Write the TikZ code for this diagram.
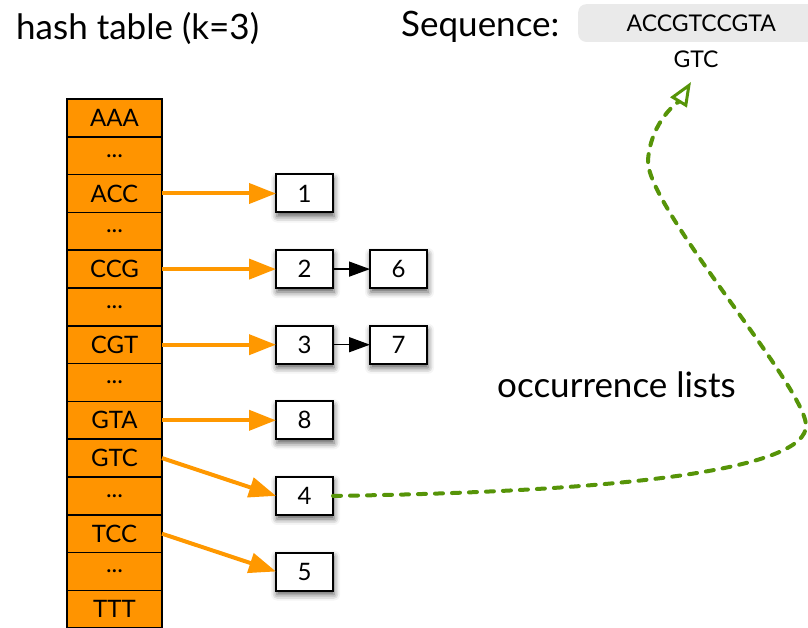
\documentclass[tikz,border=0pt]{standalone}
\usepackage{fontspec}
\setmainfont{Lato}
\usetikzlibrary{arrows.meta,shadows.blur,backgrounds,positioning}

\definecolor{tableorange}{RGB}{255,148,0}
\definecolor{linkorange}{RGB}{255,152,0}
\definecolor{hitgreen}{RGB}{86,148,8}
\definecolor{seqgray}{RGB}{234,234,234}

\begin{document}
\begin{tikzpicture}[x=1pt,y=-1pt]
      \newcommand{\cellwidth}[0]{95pt}
      \newcommand{\cellheight}[0]{37.8pt}
      \newcommand{\boxwidth}[0]{57pt}
      \newcommand{\boxheight}[0]{38pt}
      \newcommand{\linkgap}[0]{114pt}
      \newcommand{\listgap}[0]{37pt}
      
      \useasboundingbox (0,0) rectangle (808,628);
      \clip (0,0) rectangle (808,628);
      \coordinate (origo) at (0,0);
      
      \tikzstyle{cell}=[
        rectangle,
        draw=black,
        fill=tableorange,
        line width=1.5pt,
        anchor=north,
        outer sep=0pt,
        inner sep=0pt,
        minimum width=\cellwidth,
        minimum height=\cellheight,
        font=\fontsize{24}{28}\selectfont,
      ]
      \tikzstyle{entry}=[
        rectangle,
        draw=black,
        fill=white,
        line width=2pt,
        outer sep=0pt,
        inner sep=0pt,
        minimum width=\boxwidth,
        minimum height=\boxheight,
        font=\fontsize{24}{28}\selectfont,
        blur shadow={shadow xshift=1pt,shadow yshift=-4pt,shadow blur radius=6pt,shadow opacity=65},
      ]
      \tikzstyle{caption}=[
        anchor=base west,
        inner sep=0pt,
        font=\fontsize{35}{40}\selectfont,
      ]
      \tikzstyle{seq}=[
        rectangle,
        fill=seqgray,
        rounded corners=8pt,
        inner sep=0pt,
        minimum width=246pt,
        minimum height=37.7pt,
        font=\fontsize{23}{27}\selectfont,
      ]
      \tikzstyle{link} = [
        line width=4pt,
        draw=linkorange,
        -{Triangle[length=27pt,width=20pt]},
      ]
      \tikzstyle{next} = [
        line width=1.5pt,
        draw=black,
        -{Triangle[length=21pt,width=15pt]},
      ]
      \tikzstyle{hit} = [
        line width=4pt,
        draw=hitgreen,
        line cap=round,
        dash pattern=on 8pt off 9pt,
        -{Triangle[open,length=24pt,width=19pt,line width=3pt]},
      ]
      
      % titles
      \node[caption] (tabletitle) at (16,39.5) {hash table (k=3)};
      \node[caption] (seqtitle) at (401,37) {Sequence:};
      \node[caption] (listtitle) at (497,397) {occurrence lists};
      
      % sequence and the looked-up k-mer
      \node[seq,anchor=north west] (sequence) at ([xshift=578pt,yshift=-4pt] origo) {ACCGTCCGTA};
      \node[anchor=base,inner sep=0pt,font=\fontsize{23}{27}\selectfont] (kmer) at (696,68) {GTC};
      
      % hash table
      {
        \node[cell,anchor=north west] (cellI) at ([xshift=67pt,yshift=-99pt] origo) {AAA};
        \node[cell] (cellII)   at (cellI.south)    {...};
        \node[cell] (cellIII)  at (cellII.south)   {ACC};
        \node[cell] (cellIV)   at (cellIII.south)  {...};
        \node[cell] (cellV)    at (cellIV.south)   {CCG};
        \node[cell] (cellVI)   at (cellV.south)    {...};
        \node[cell] (cellVII)  at (cellVI.south)   {CGT};
        \node[cell] (cellVIII) at (cellVII.south)  {...};
        \node[cell] (cellIX)   at (cellVIII.south) {GTA};
        \node[cell] (cellX)    at (cellIX.south)   {GTC};
        \node[cell] (cellXI)   at (cellX.south)    {...};
        \node[cell] (cellXII)  at (cellXI.south)   {TCC};
        \node[cell] (cellXIII) at (cellXII.south)  {...};
        \node[cell] (cellXIV)  at (cellXIII.south) {TTT};
        
        \begin{scope}[on background layer]
          \path[blur shadow={shadow xshift=-2pt,shadow yshift=-1pt,shadow blur radius=5pt,shadow opacity=50}]
            (cellI.north west) rectangle (cellXIV.south east);
        \end{scope}
      }
      
      % occurrence lists
      {
        \node[entry,anchor=west] (occI)    at ([xshift=\linkgap] cellIII.east)  {1};
        \node[entry,anchor=west] (occII)   at ([xshift=\linkgap] cellV.east)    {2};
        \node[entry,anchor=west] (occVI)   at ([xshift=\listgap] occII.east)    {6};
        \node[entry,anchor=west] (occIII)  at ([xshift=\linkgap] cellVII.east)  {3};
        \node[entry,anchor=west] (occVII)  at ([xshift=\listgap] occIII.east)   {7};
        \node[entry,anchor=west] (occVIII) at ([xshift=\linkgap] cellIX.east)   {8};
        \node[entry,anchor=west] (occIV)   at ([xshift=\linkgap] cellXI.east)   {4};
        \node[entry,anchor=west] (occV)    at ([xshift=\linkgap] cellXIII.east) {5};
        
        \draw[next] (occII)  -- (occVI);
        \draw[next] (occIII) -- (occVII);
      }
      
      % table -> list heads
      \draw[link] (cellIII.east) -- (occI.west);
      \draw[link] (cellV.east)   -- (occII.west);
      \draw[link] (cellVII.east) -- (occIII.west);
      \draw[link] (cellIX.east)  -- (occVIII.west);
      \draw[link] (cellX.east)   -- (occIV.west);
      \draw[link] (cellXII.east) -- (occV.west);
      
      % position 4 back into the sequence
      \coordinate (hitpoint) at (691,82);
      \draw[hit] (occIV.east)
        .. controls (620,492) and (808,470) .. (806,425)
        .. controls (804,385) and (645,205) .. (648,160)
        .. controls (651,120) and (680,100) .. (hitpoint);
\end{tikzpicture}
\end{document}
